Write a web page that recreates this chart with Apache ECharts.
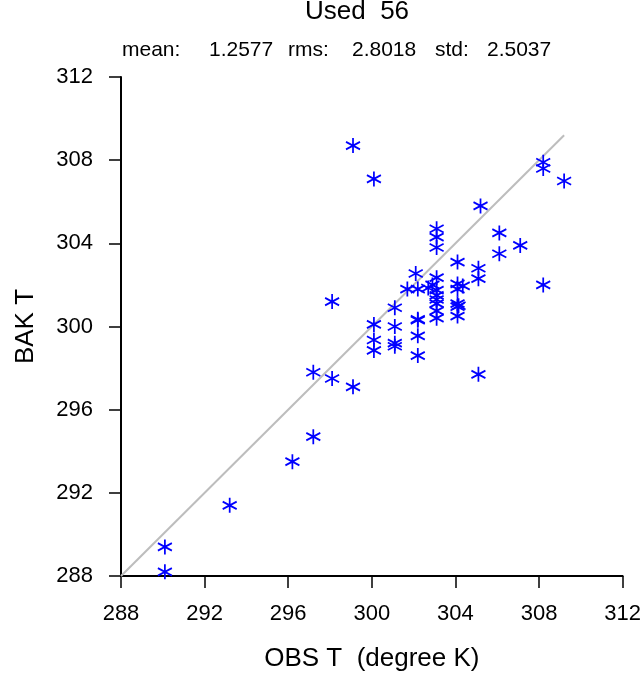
<!DOCTYPE html>
<html>
<head>
<meta charset="utf-8">
<script src="https://cdn.jsdelivr.net/npm/echarts@6/dist/echarts.min.js"></script>
<style>
html,body{margin:0;padding:0;background:#fff;}
#main{width:644px;height:677px;}
</style>
</head>
<body>
<div id="main"></div>
<script>
// Data
var obsT = [290.1,290.1,293.2,296.2,297.2,297.2,298.1,299.1,298.1,299.1,
            300.1,300.1,300.1,300.1,301.1,301.1,301.1,301.1,301.7,302.1,
            302.2,302.2,302.2,302.2,302.2,302.7,302.9,303.1,303.1,303.1,
            303.1,303.1,303.1,303.1,303.1,303.1,303.1,304.1,304.1,304.1,
            304.35,304.1,304.15,304.1,304.1,305.1,305.1,305.1,305.2,306.1,
            306.1,307.1,308.2,308.2,309.2,308.2];
var bakT = [288.2,289.4,291.4,293.5,294.7,297.8,297.5,297.1,301.2,308.7,
            307.1,300.1,299.35,298.85,300.9,300.0,299.2,299.05,301.8,302.55,
            301.8,300.3,300.35,299.55,298.6,301.85,302.0,304.7,304.3,303.8,
            302.35,301.75,301.5,301.3,301.1,300.75,300.4,303.1,302.05,301.8,
            301.95,301.1,301.0,300.95,300.5,302.8,302.3,297.7,305.8,304.5,
            303.5,303.9,307.9,307.6,307.0,302.0];
var refLine = [[288,288],[309.2,309.2]];
var axisTicks = [288,292,296,300,304,308,312];
var titleText = 'Used  56';
var statLabels = ['mean:','1.2577','rms:','2.8018','std:','2.5037'];
var xName = 'OBS T  (degree K)';
var yName = 'BAK T';

var pts = obsT.map(function(v,i){return [v,bakT[i]];});
var FONT = 'Liberation Sans, Arial, Helvetica, sans-serif';
var statX = [122,209,288,352,435,487];

var chart = echarts.init(document.getElementById('main'), null, {renderer:'canvas'});
chart.setOption({
  backgroundColor:'#fff',
  animation:false,
  grid:{left:121,right:21,top:77,bottom:98,containLabel:false},
  xAxis:{
    type:'value',min:288,max:312,interval:4,
    axisLine:{show:true,onZero:false,lineStyle:{color:'#000',width:2}},
    axisTick:{show:true,length:12,inside:false,lineStyle:{color:'#000',width:1.5}},
    axisLabel:{fontSize:22,color:'#000',fontFamily:FONT,margin:27,
      formatter:function(v){return axisTicks.indexOf(v)>=0?String(v):'';}},
    splitLine:{show:false},
    name:xName,nameLocation:'middle',nameGap:70,
    nameTextStyle:{fontSize:26,color:'#000',fontFamily:FONT}
  },
  yAxis:{
    type:'value',min:288,max:312,interval:4,
    axisLine:{show:true,onZero:false,lineStyle:{color:'#000',width:2}},
    axisTick:{show:true,length:12,inside:false,lineStyle:{color:'#000',width:1.5}},
    axisLabel:{fontSize:22,color:'#000',fontFamily:FONT,margin:28,
      formatter:function(v){return axisTicks.indexOf(v)>=0?String(v):'';}},
    splitLine:{show:false},
    name:yName,nameLocation:'middle',nameGap:82,nameRotate:90,
    nameTextStyle:{fontSize:26,color:'#000',fontFamily:FONT}
  },
  series:[
    {
      type:'line',data:refLine,showSymbol:false,symbol:'none',silent:true,
      lineStyle:{color:'#bdbdbd',width:2},z:1
    },
    {
      type:'scatter',data:pts,
      symbol:'path://M0,-1L0,1M-0.866,-0.5L0.866,0.5M-0.866,0.5L0.866,-0.5',
      symbolSize:[14,15],
      itemStyle:{color:'rgba(0,0,0,0)',borderColor:'#0000ff',borderWidth:1.8,opacity:1},
      z:2
    }
  ],
  graphic:[
    {type:'text',x:305,y:-1,style:{text:titleText,fontSize:26,fill:'#000',fontFamily:FONT}}
  ].concat(statLabels.map(function(s,i){
    return {type:'text',x:statX[i],y:40,style:{text:s,fontSize:21,fill:'#000',fontFamily:FONT}};
  }))
});
</script>
</body>
</html>
